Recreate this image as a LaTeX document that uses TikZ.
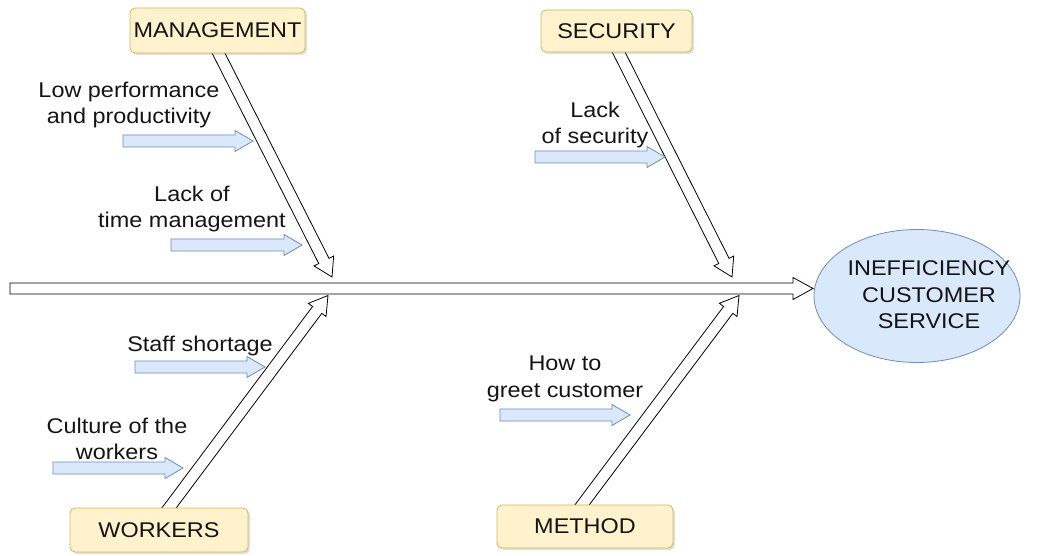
\documentclass[tikz,border=0pt]{standalone}
\usepackage{fontspec}
\setmainfont{Liberation Sans}[FakeStretch=1.1]
\usetikzlibrary{calc,shadows,shapes.geometric}
\pgfdeclarelayer{bg}
\pgfsetlayers{bg,main}
\definecolor{boxfill}{HTML}{FFF2CC}
\definecolor{boxline}{HTML}{D6B656}
\definecolor{bluefill}{HTML}{DAE8FC}
\definecolor{blueline}{HTML}{6C8EBF}
\definecolor{ink}{HTML}{141414}
% #1 style, #2 start, #3 tip, #4 shaft half width, #5 head half width, #6 head length
\newcommand\blockarr[6]{%
  \coordinate (hb) at ($(#3)!#6!(#2)$);
  \draw[#1] ($(#2)!#4!90:(#3)$) -- ($(hb)!#4!90:(#3)$) -- ($(hb)!#5!90:(#3)$) -- (#3)
    -- ($(hb)!#5!-90:(#3)$) -- ($(hb)!#4!-90:(#3)$) -- ($(#2)!#4!-90:(#3)$) -- cycle;}
\tikzset{
  cat/.style={draw=boxline, fill=boxfill, rounded corners=5pt, line width=0.8pt,
    text=ink, font=\fontsize{21.3}{26}\selectfont,
    drop shadow={shadow xshift=2pt, shadow yshift=-2pt, opacity=0.25}},
  lbl/.style={text=ink, font=\fontsize{21.3}{26.5}\selectfont, align=center, inner sep=0pt},
  bone/.style={draw=black, fill=white, line width=0.8pt, line join=miter},
  small/.style={draw=blueline, fill=bluefill, line width=0.8pt},
}
\begin{document}
\begin{tikzpicture}[x=1pt,y=-1pt]
\useasboundingbox (0,0) rectangle (1044,556);
% category boxes
\node[cat, minimum width=175pt, minimum height=45pt] (mgmt) at (217.5,30.5) {MANAGEMENT};
\node[cat, minimum width=151pt, minimum height=42pt] (sec) at (616.5,31) {SECURITY};
\node[cat, minimum width=178pt, minimum height=44pt] (work) at (159,530) {WORKERS};
\node[cat, minimum width=176pt, minimum height=43pt] (meth) at (585,526.5) {METHOD};
% effect
\node[draw=blueline, fill=bluefill, line width=0.8pt, ellipse, minimum width=206pt, minimum height=133pt] (eff) at (917,296) {};
\node[lbl] (efft) at (929,295) {INEFFICIENCY\\CUSTOMER\\SERVICE};
% coordinates
\coordinate (tail) at (10,288.5);
\coordinate (head) at (813,288.5);
\coordinate (m0) at (208.3,33);
\coordinate (m1) at (332,277);
\coordinate (s0) at (609,33);
\coordinate (s1) at (732,277);
\coordinate (w0) at (154,528);
\coordinate (w1) at (328,295.5);
\coordinate (t0) at (568.5,523);
\coordinate (t1) at (739,295.5);
\begin{pgfonlayer}{bg}
\blockarr{bone}{m0}{m1}{5.75pt}{11pt}{18pt}
\blockarr{bone}{s0}{s1}{5.75pt}{11pt}{18pt}
\blockarr{bone}{w0}{w1}{5.75pt}{11pt}{18pt}
\blockarr{bone}{t0}{t1}{5.75pt}{11pt}{18pt}
\end{pgfonlayer}
\blockarr{bone}{tail}{head}{5.5pt}{11pt}{20pt}
% small cause arrows
\coordinate (a0) at (123,141); \coordinate (a1) at (253,141);
\coordinate (b0) at (171,245); \coordinate (b1) at (302,245);
\coordinate (c0) at (535,157); \coordinate (c1) at (665,157);
\coordinate (d0) at (135,367); \coordinate (d1) at (265,367);
\coordinate (e0) at (53,468);  \coordinate (e1) at (183,468);
\coordinate (f0) at (500,415); \coordinate (f1) at (630,415);
\blockarr{small}{a0}{a1}{6pt}{10.5pt}{18pt}
\blockarr{small}{b0}{b1}{6pt}{10.5pt}{18pt}
\blockarr{small}{c0}{c1}{6pt}{10.5pt}{18pt}
\blockarr{small}{d0}{d1}{6pt}{10.5pt}{18pt}
\blockarr{small}{e0}{e1}{6pt}{10.5pt}{18pt}
\blockarr{small}{f0}{f1}{6pt}{10.5pt}{18pt}
% labels
\node[lbl] (la) at (129,105) {Low performance\\and productivity};
\node[lbl] (lb) at (192,209) {Lack of\\time management};
\node[lbl] (lc) at (595,125) {Lack\\of security};
\node[lbl] (ld) at (200,346) {Staff shortage};
\node[lbl] (le) at (117,439) {Culture of the\\workers};
\node[lbl] (lf) at (565,379) {How to\\greet customer};
\end{tikzpicture}
\end{document}
